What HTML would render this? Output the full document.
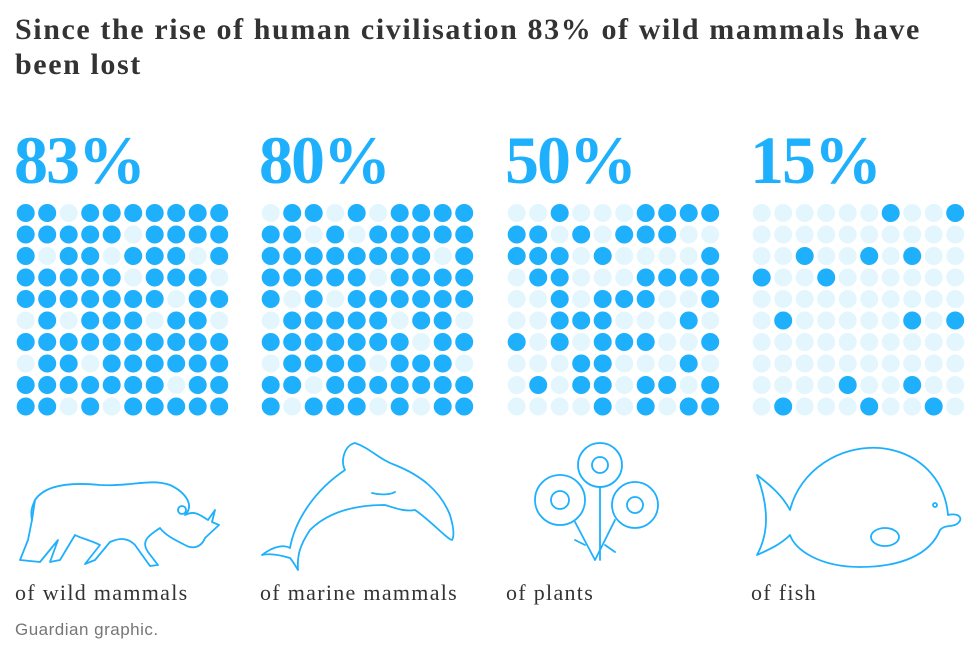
<!DOCTYPE html>
<html><head><meta charset="utf-8"><style>
body{margin:0;background:#fff;width:980px;height:653px;overflow:hidden;position:relative;font-family:"Liberation Serif",serif}
h1{position:absolute;left:15px;top:12px;margin:0;font-size:30px;line-height:35px;font-weight:bold;color:#333;width:935px;letter-spacing:1.6px}
.pct{position:absolute;top:120px;font-size:68px;font-weight:bold;color:#1eb0fc;line-height:80px;letter-spacing:-2px}
.lab{position:absolute;top:580px;font-size:22px;color:#333;letter-spacing:1.3px}
.src{position:absolute;left:15px;top:620px;font-family:"Liberation Sans",sans-serif;font-size:17px;color:#767676;letter-spacing:0.5px}
svg{position:absolute;left:0;top:0}
</style></head><body>
<h1>Since the rise of human civilisation 83% of wild mammals have been lost</h1>
<div class="pct" style="left:14px">83%</div>
<div class="pct" style="left:259px">80%</div>
<div class="pct" style="left:505px">50%</div>
<div class="pct" style="left:750px">15%</div>
<div class="lab" style="left:15px">of wild mammals</div>
<div class="lab" style="left:260px">of marine mammals</div>
<div class="lab" style="left:506px">of plants</div>
<div class="lab" style="left:751px">of fish</div>
<div class="src">Guardian graphic.</div>
<svg width="980" height="653" id="s">
<g fill="none" stroke="#1eb0fc" stroke-width="1.8" stroke-linejoin="round" stroke-linecap="round">
<path d="M35 500 C45 485 70 482 100 485 C130 487 150 478 170 485 C185 492 195 505 185 515 C195 510 200 515 208 520 L215 510 L212 522 L219 525 L205 538 C200 550 190 548 185 545 C175 540 165 535 160 528 C150 535 140 540 148 552 L158 565 L150 566 L135 545 C125 535 115 540 110 542 L95 560 L85 564 L100 545 C90 540 80 538 75 535 L60 560 L50 562 L58 540 L40 562 L20 560 L28 540 L32 520 Z"/>
<path d="M32 520 C30 510 33 505 35 500"/><circle cx="182" cy="510" r="4"/>
<path d="M262 555 C275 545 285 545 290 548 C295 520 315 490 345 470 C340 460 345 445 355 443 C370 448 380 460 395 465 C420 475 440 490 450 515 C453 525 455 535 452 540 C448 540 430 520 415 510 C405 512 395 508 385 505 C360 505 330 510 310 530 C300 545 297 555 298 570 C295 565 292 560 290 558 C280 555 270 553 262 555 Z"/>
<path d="M372 493 C380 495 390 495 395 492"/>
<circle cx="600" cy="465" r="22"/><circle cx="600" cy="465" r="8"/>
<circle cx="560" cy="500" r="25"/><circle cx="560" cy="500" r="9"/>
<circle cx="635" cy="505" r="23"/><circle cx="635" cy="505" r="8"/>
<path d="M575 522 L595 560 M615 520 L595 560 M600 487 L600 560 M585 545 L575 540 M605 545 L615 552"/>
<path d="M790 510 C800 470 840 445 880 448 C920 452 945 480 948 515 C960 512 965 520 955 525 C948 527 945 525 940 530 C930 555 900 567 860 567 C820 567 795 550 790 535 C780 545 768 550 757 555 C768 535 770 510 757 475 C770 485 782 495 790 510 Z"/>
<ellipse cx="885" cy="537" rx="14" ry="9"/><circle cx="935" cy="505" r="2"/>
</g>
</svg>
<script>
var P=[
["1101111111","1111101111","1011011101","1111101110","1111111011","0101110110","1111111111","0110111111","1111111011","1101011111"],
["0110101111","1101011111","1111111101","1111101111","1010111111","0111110110","1111111011","0111101110","1101111111","1011101011"],
["0010001111","1101011100","1110100001","0110001111","0010111001","0011100010","1010111001","0001100010","0101101101","0000101011"],
["0000001001","0000000000","0010010100","1001000000","0000000000","0100000101","0000000000","0000000000","0000100100","0100010010"]];
var X=[25.7,270.7,516.7,761.7],s='';
for(var g=0;g<4;g++)for(var r=0;r<10;r++)for(var c=0;c<10;c++){
s+='<circle cx="'+(X[g]+c*21.5)+'" cy="'+(213+r*21.5)+'" r="9" fill="'+(P[g][r][c]=='1'?'#1eb0fc':'#e3f6fe')+'"/>';}
document.getElementById('s').insertAdjacentHTML('beforeend',s);
</script>
</body></html>
